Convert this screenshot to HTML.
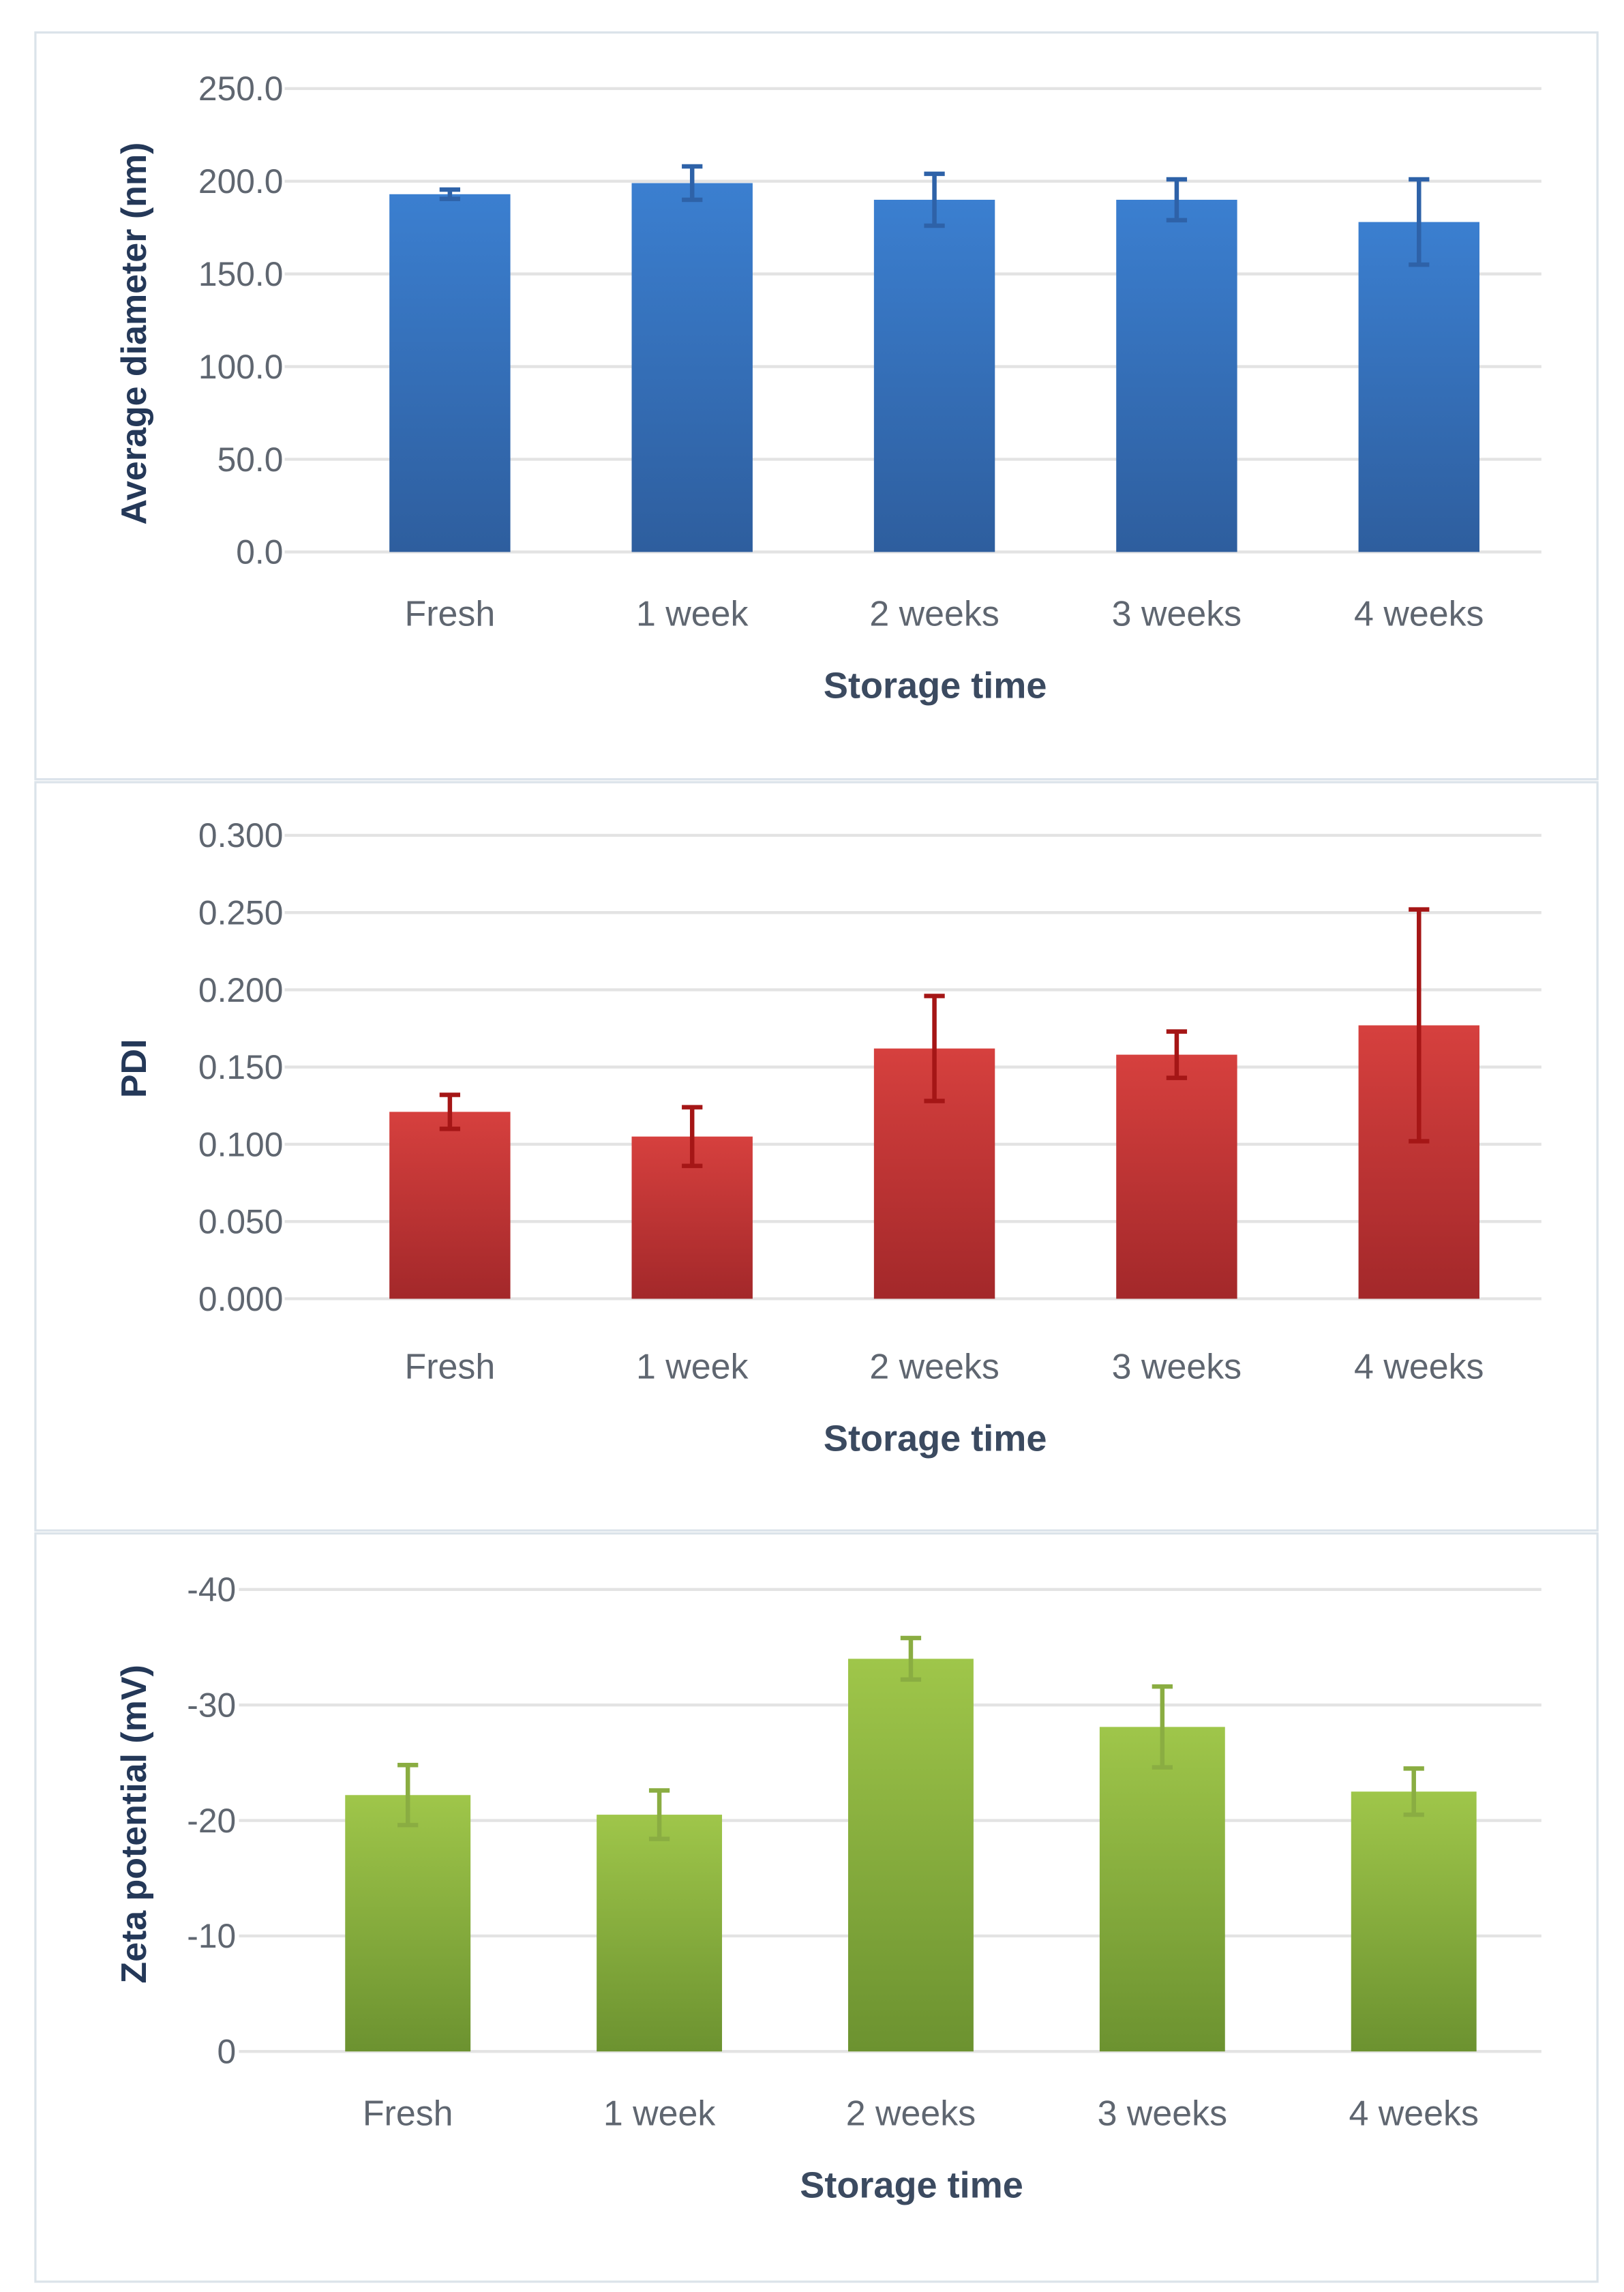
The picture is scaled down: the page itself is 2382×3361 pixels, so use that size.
<!DOCTYPE html>
<html><head><meta charset="utf-8"><style>
html,body{margin:0;padding:0;background:#fff}
svg{display:block}
text{font-family:"Liberation Sans",sans-serif}
</style></head><body>
<svg id="fig" width="2382" height="3361" viewBox="0 0 1101 1553" preserveAspectRatio="none" xmlns="http://www.w3.org/2000/svg">
<defs>
<linearGradient id="gBlue" x1="0" y1="0" x2="0" y2="1"><stop offset="0" stop-color="#3b7fd0"/><stop offset="1" stop-color="#2e5e9e"/></linearGradient>
<linearGradient id="gRed" x1="0" y1="0" x2="0" y2="1"><stop offset="0" stop-color="#d6403e"/><stop offset="1" stop-color="#a3282a"/></linearGradient>
<linearGradient id="gGreen" x1="0" y1="0" x2="0" y2="1"><stop offset="0" stop-color="#9fc64a"/><stop offset="1" stop-color="#6c9230"/></linearGradient>
</defs>
<g id="root"></g>
</svg>
<script>
const categories = ["Fresh","1 week","2 weeks","3 weeks","4 weeks"];
const diameterValues = [193, 199, 190, 190, 178];
const diameterErrors = [2.5, 9, 14, 11, 23];
const diameterTicks = ["0.0","50.0","100.0","150.0","200.0","250.0"];
const pdiValues = [0.121, 0.105, 0.162, 0.158, 0.177];
const pdiErrors = [0.011, 0.019, 0.034, 0.015, 0.075];
const pdiTicks = ["0.000","0.050","0.100","0.150","0.200","0.250","0.300"];
const zetaValues = [22.2, 20.5, 34.0, 28.1, 22.5];
const zetaErrors = [2.6, 2.1, 1.8, 3.5, 2.0];
const zetaTicks = ["0","-10","-20","-30","-40"];

const NS = "http://www.w3.org/2000/svg";
const root = document.getElementById("root");
function mk(tag, attrs, parent){const e=document.createElementNS(NS,tag);for(const k in attrs)e.setAttribute(k,attrs[k]);(parent||root).appendChild(e);return e;}

function chart(o){
  const g = mk("g",{});
  
  
  const box = mk("rect",{x:24,y:o.boxTop,width:1059,height:o.boxH,fill:"#fff",stroke:"#dbe3ea","stroke-width":1.5},g);
  
  
  const n = o.ticks.length - 1;
  const y = v => o.y0 - (v / o.max) * (o.y0 - o.yTop);
  o.ticks.forEach((t,i)=>{
    const v = o.max * i / n;
    const ln = mk("line",{x1:o.gx0,x2:1045,y1:y(v),y2:y(v),stroke:"#e3e3e3","stroke-width":2},g);
    
    
    const tx = mk("text",{x:o.tickX,y:y(v)+8,"text-anchor":"end","font-size":23,fill:"#5f6670"},g);
    tx.textContent = t;
    
    
  });
  const xc = i => o.c0 + o.step * i;
  categories.forEach((c,i)=>{
    const v = o.values[i], e = o.errors[i];
    const r = mk("rect",{x:xc(i)-o.bw/2,y:y(v),width:o.bw,height:o.y0-y(v),fill:o.fill},g);
    
    
    const eb = mk("path",{d:`M${xc(i)},${y(v-e)}V${y(v+e)}M${xc(i)-7},${y(v+e)}H${xc(i)+7}M${xc(i)-7},${y(v-e)}H${xc(i)+7}`,stroke:o.err,"stroke-width":3,fill:"none"},g);
    
    
    const lt = mk("text",{x:xc(i),y:o.labelY,"text-anchor":"middle","font-size":24,fill:"#5f6670"},g);
    lt.textContent = c;
    
    
  });
  const xt = mk("text",{x:o.titleX,y:o.labelY+49,"text-anchor":"middle","font-size":25,"font-weight":"bold",fill:"#3b4a60"},g);
  xt.textContent = "Storage time";
  
  
  const yt = mk("text",{x:0,y:0,"text-anchor":"middle","font-size":24,"font-weight":"bold",fill:"#243858",transform:`translate(99,${o.yTitleY}) rotate(-90)`},g);
  yt.textContent = o.yTitle;
  
  
}

chart({name:"diameter-chart",boxTop:22,boxH:506,ticks:diameterTicks,max:250,y0:374,yTop:60,gx0:193,tickX:192,
  c0:305,step:164.25,bw:82,values:diameterValues,errors:diameterErrors,fill:"url(#gBlue)",err:"#2e62a8",
  labelY:424,titleX:634,yTitle:"Average diameter (nm)",yTitleY:226});
chart({name:"pdi-chart",boxTop:530,boxH:507,ticks:pdiTicks,max:0.3,y0:880,yTop:566,gx0:193,tickX:192,
  c0:305,step:164.25,bw:82,values:pdiValues,errors:pdiErrors,fill:"url(#gRed)",err:"#a51616",
  labelY:934,titleX:634,yTitle:"PDI",yTitleY:724});
chart({name:"zeta-chart",boxTop:1039,boxH:507,ticks:zetaTicks,max:40,y0:1390,yTop:1077,gx0:162,tickX:160,
  c0:276.5,step:170.5,bw:85,values:zetaValues,errors:zetaErrors,fill:"url(#gGreen)",err:"#8aad42",
  labelY:1440,titleX:618,yTitle:"Zeta potential (mV)",yTitleY:1236});
</script>
</body></html>
